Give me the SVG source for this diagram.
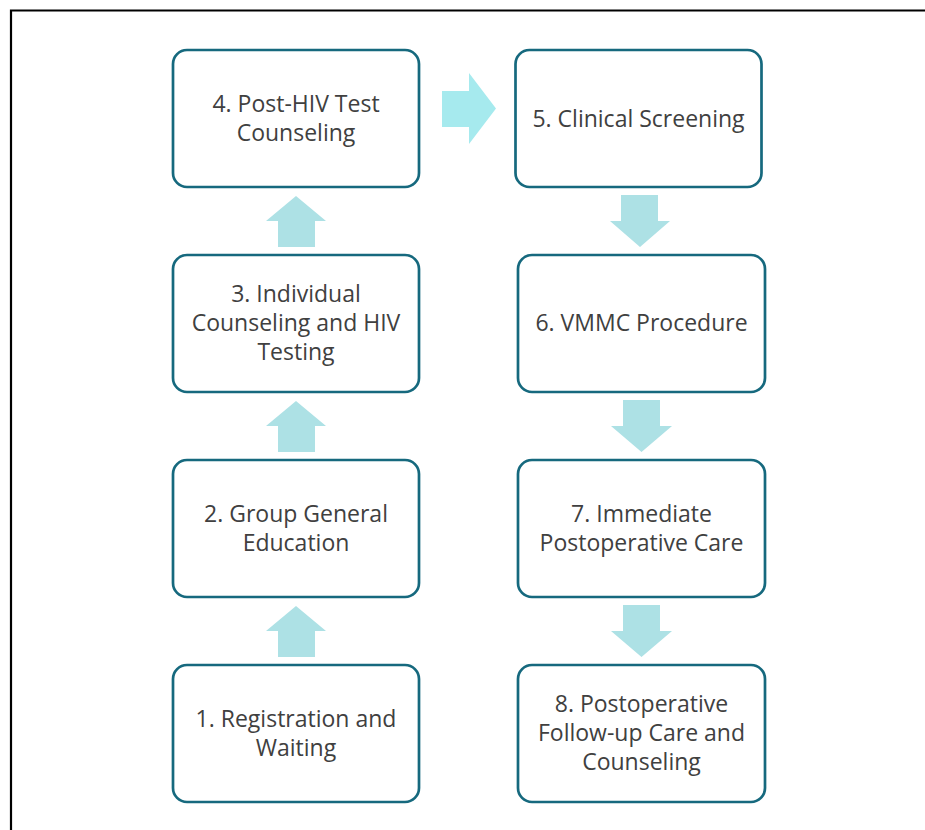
<svg xmlns="http://www.w3.org/2000/svg" width="925" height="830" viewBox="0 0 925 830">
<style>
.box{fill:#ffffff;stroke:#16697e;stroke-width:2.7}
.lbl{font-family:"Open Sans","Liberation Sans",sans-serif;font-size:23px;fill:#404040;text-anchor:middle}
.av{fill:#ade1e5}
.ah{fill:#a6eaee}
.frame{stroke:#000000;stroke-width:2.2;fill:none}
</style>
<rect x="0" y="0" width="925" height="830" fill="#ffffff"/>
<path class="frame" d="M11 830 V10.5 H925"/>
<g id="connectors">
<path class="ah" d="M442 91 H469 V73 L496 108.5 L469 144 V127 H442 Z"/>
<path class="av" d="M296 196 L326 221 H315 V247 H278 V221 H266 Z"/>
<path class="av" d="M296 401 L326 426 H315 V452 H278 V426 H266 Z"/>
<path class="av" d="M296 606 L326 631 H315 V657 H278 V631 H266 Z"/>
<path class="av" d="M621 195 H658 V221 H670 L640 247 L610 221 H621 Z"/>
<path class="av" d="M623 400 H660 V426 H672 L641.5 452 L611 426 H623 Z"/>
<path class="av" d="M623 605 H660 V631 H672 L641.5 657 L611 631 H623 Z"/>
</g>
<g id="n1">
<rect class="box" x="173" y="665" width="246" height="137" rx="14"/>
<text class="lbl" x="296" y="727">1. Registration and</text>
<text class="lbl" x="296" y="756">Waiting</text>
</g>
<g id="n2">
<rect class="box" x="173" y="460" width="246" height="137" rx="14"/>
<text class="lbl" x="296" y="522">2. Group General</text>
<text class="lbl" x="296" y="551">Education</text>
</g>
<g id="n3">
<rect class="box" x="173" y="255" width="246" height="137" rx="14"/>
<text class="lbl" x="296" y="302">3. Individual</text>
<text class="lbl" x="296" y="331">Counseling and HIV</text>
<text class="lbl" x="296" y="360">Testing</text>
</g>
<g id="n4">
<rect class="box" x="173" y="50" width="246" height="137" rx="14"/>
<text class="lbl" x="296" y="112">4. Post-HIV Test</text>
<text class="lbl" x="296" y="141">Counseling</text>
</g>
<g id="n5">
<rect class="box" x="515.5" y="50" width="246" height="137" rx="14"/>
<text class="lbl" x="638.5" y="126.5">5. Clinical Screening</text>
</g>
<g id="n6">
<rect class="box" x="518" y="255" width="247" height="137" rx="14"/>
<text class="lbl" x="641.5" y="331">6. VMMC Procedure</text>
</g>
<g id="n7">
<rect class="box" x="518" y="460" width="247" height="137" rx="14"/>
<text class="lbl" x="641.5" y="522">7. Immediate</text>
<text class="lbl" x="641.5" y="551">Postoperative Care</text>
</g>
<g id="n8">
<rect class="box" x="518" y="665" width="247" height="137" rx="14"/>
<text class="lbl" x="641.5" y="712">8. Postoperative</text>
<text class="lbl" x="641.5" y="741">Follow-up Care and</text>
<text class="lbl" x="641.5" y="770">Counseling</text>
</g>
</svg>
